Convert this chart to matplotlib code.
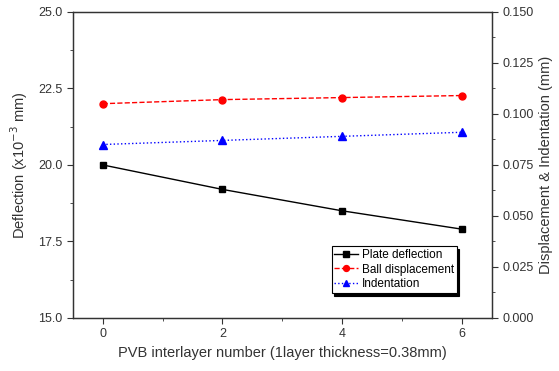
import matplotlib
matplotlib.use("Agg")
import matplotlib.pyplot as plt
from matplotlib.ticker import MultipleLocator, AutoMinorLocator

plt.rcParams['font.family'] = ['Liberation Sans', 'DejaVu Sans']

layers = [0, 2, 4, 6]
plate_deflection = [20.0, 19.2, 18.5, 17.9]          # x10^-3 mm
ball_displacement = [0.105, 0.107, 0.108, 0.109]     # mm
indentation = [0.085, 0.087, 0.089, 0.091]           # mm

fig, ax = plt.subplots(figsize=(5.59, 3.71), dpi=100)
fig.subplots_adjust(left=0.13, right=0.88, top=0.968, bottom=0.143)
ax2 = ax.twinx()

l1, = ax.plot(layers, plate_deflection, '-', color='black', marker='s', ms=4.5, lw=1,
              label='Plate deflection')
l2, = ax2.plot(layers, ball_displacement, '--', color='red', marker='o', ms=5, lw=1,
               label='Ball displacement')
l3, = ax2.plot(layers, indentation, ':', color='blue', marker='^', ms=5.5, lw=1,
               label='Indentation')

ax.set_xlim(-0.5, 6.5)
ax.set_ylim(15, 25)
ax2.set_ylim(0, 0.15)
ax.set_xticks(layers)
ax.xaxis.set_minor_locator(MultipleLocator(1))
ax.yaxis.set_major_locator(MultipleLocator(2.5))
ax.yaxis.set_minor_locator(AutoMinorLocator(2))
ax2.yaxis.set_major_locator(MultipleLocator(0.025))
ax2.yaxis.set_minor_locator(AutoMinorLocator(2))
ax.yaxis.set_major_formatter(lambda v, p: '{:.1f}'.format(v))
ax2.yaxis.set_major_formatter(lambda v, p: '{:.3f}'.format(v))

for a in (ax, ax2):
    a.tick_params(which='major', direction='out', length=4, labelsize=9, color='#333333',
                  labelcolor='#333333')
    a.tick_params(which='minor', direction='out', length=2.5, color='#333333')
    for s in a.spines.values():
        s.set_color('#333333')
        s.set_linewidth(0.9)

ax.set_xlabel('PVB interlayer number (1layer thickness=0.38mm)', fontsize=10.5, color='#333333')
ax.set_ylabel('Deflection (x10$^{-3}$ mm)', fontsize=10.5, color='#333333', labelpad=6)
ax2.set_ylabel('Displacement & Indentation (mm)', fontsize=10.5, color='#333333')

leg = ax2.legend(handles=[l1, l2, l3], loc='lower right', bbox_to_anchor=(0.916, 0.082),
                 fontsize=8.5, frameon=True, shadow={'color': 'black', 'alpha': 1},
                 fancybox=False, handlelength=2.0, handletextpad=0.3, markerscale=0.85,
                 borderpad=0.25, labelspacing=0.2, borderaxespad=0)
leg.get_frame().set_edgecolor('black')
leg.get_frame().set_linewidth(0.8)

fig.savefig('out.png', dpi=100)
